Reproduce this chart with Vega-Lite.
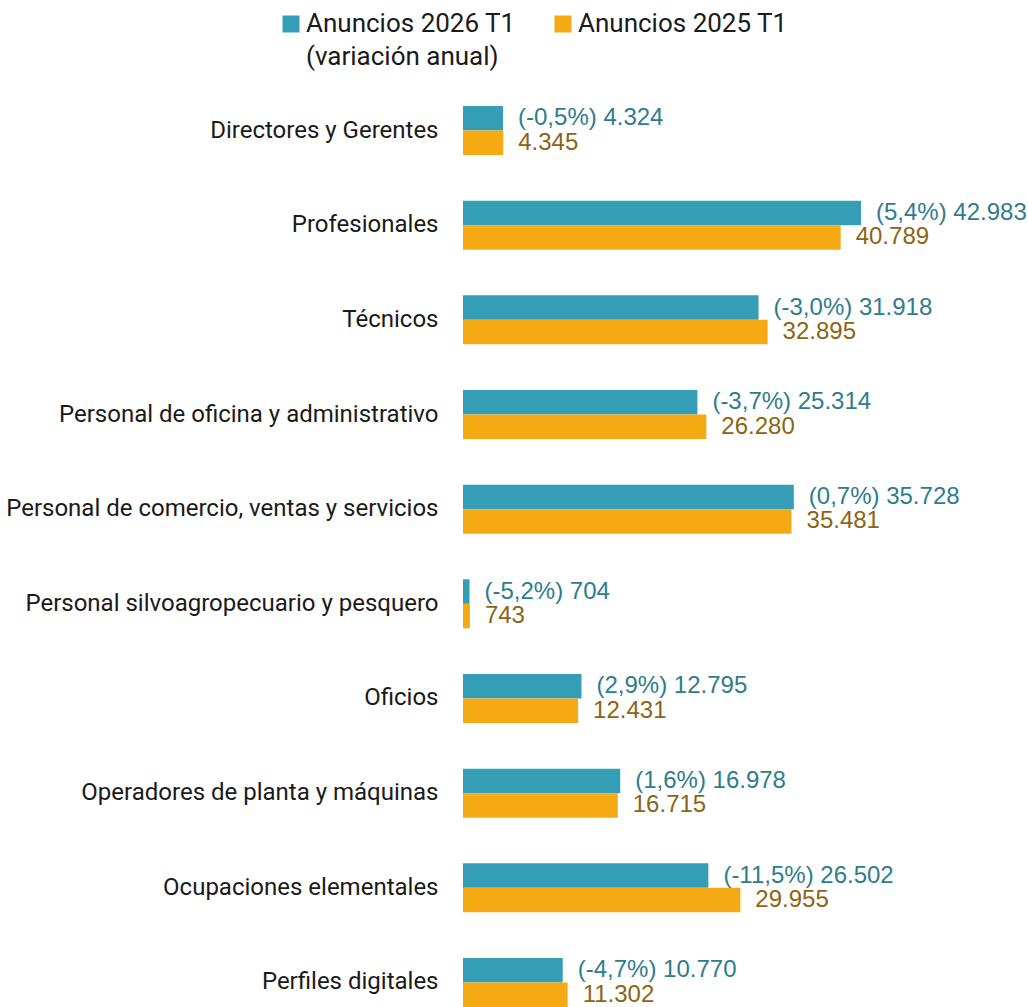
{
  "$schema": "https://vega.github.io/schema/vega-lite/v6.json",
  "width": 565,
  "height": 901,
  "autosize": {"type": "none"},
  "padding": {"left": 463, "top": 106, "right": 0, "bottom": 0},
  "background": "white",
  "config": {"view": {"stroke": null}, "font": "Roboto"},
  "data": {
    "values": [
      {"ocupacion": "Directores y Gerentes", "serie": "Anuncios 2026 T1", "valor": 4324, "etiqueta": "(-0,5%) 4.324"},
      {"ocupacion": "Directores y Gerentes", "serie": "Anuncios 2025 T1", "valor": 4345, "etiqueta": "4.345"},
      {"ocupacion": "Profesionales", "serie": "Anuncios 2026 T1", "valor": 42983, "etiqueta": "(5,4%) 42.983"},
      {"ocupacion": "Profesionales", "serie": "Anuncios 2025 T1", "valor": 40789, "etiqueta": "40.789"},
      {"ocupacion": "Técnicos", "serie": "Anuncios 2026 T1", "valor": 31918, "etiqueta": "(-3,0%) 31.918"},
      {"ocupacion": "Técnicos", "serie": "Anuncios 2025 T1", "valor": 32895, "etiqueta": "32.895"},
      {"ocupacion": "Personal de oficina y administrativo", "serie": "Anuncios 2026 T1", "valor": 25314, "etiqueta": "(-3,7%) 25.314"},
      {"ocupacion": "Personal de oficina y administrativo", "serie": "Anuncios 2025 T1", "valor": 26280, "etiqueta": "26.280"},
      {"ocupacion": "Personal de comercio, ventas y servicios", "serie": "Anuncios 2026 T1", "valor": 35728, "etiqueta": "(0,7%) 35.728"},
      {"ocupacion": "Personal de comercio, ventas y servicios", "serie": "Anuncios 2025 T1", "valor": 35481, "etiqueta": "35.481"},
      {"ocupacion": "Personal silvoagropecuario y pesquero", "serie": "Anuncios 2026 T1", "valor": 704, "etiqueta": "(-5,2%) 704"},
      {"ocupacion": "Personal silvoagropecuario y pesquero", "serie": "Anuncios 2025 T1", "valor": 743, "etiqueta": "743"},
      {"ocupacion": "Oficios", "serie": "Anuncios 2026 T1", "valor": 12795, "etiqueta": "(2,9%) 12.795"},
      {"ocupacion": "Oficios", "serie": "Anuncios 2025 T1", "valor": 12431, "etiqueta": "12.431"},
      {"ocupacion": "Operadores de planta y máquinas", "serie": "Anuncios 2026 T1", "valor": 16978, "etiqueta": "(1,6%) 16.978"},
      {"ocupacion": "Operadores de planta y máquinas", "serie": "Anuncios 2025 T1", "valor": 16715, "etiqueta": "16.715"},
      {"ocupacion": "Ocupaciones elementales", "serie": "Anuncios 2026 T1", "valor": 26502, "etiqueta": "(-11,5%) 26.502"},
      {"ocupacion": "Ocupaciones elementales", "serie": "Anuncios 2025 T1", "valor": 29955, "etiqueta": "29.955"},
      {"ocupacion": "Perfiles digitales", "serie": "Anuncios 2026 T1", "valor": 10770, "etiqueta": "(-4,7%) 10.770"},
      {"ocupacion": "Perfiles digitales", "serie": "Anuncios 2025 T1", "valor": 11302, "etiqueta": "11.302"}
    ]
  },
  "encoding": {
    "y": {
      "field": "ocupacion",
      "type": "nominal",
      "sort": null,
      "scale": {"paddingInner": 0.482, "paddingOuter": 0},
      "axis": {
        "title": null,
        "domain": false,
        "ticks": false,
        "grid": false,
        "labelPadding": 25,
        "labelFont": "Roboto",
        "labelFontSize": 24,
        "labelColor": "#1a1a1a",
        "labelLimit": 500
      }
    },
    "yOffset": {
      "field": "serie",
      "type": "nominal",
      "sort": ["Anuncios 2026 T1", "Anuncios 2025 T1"],
      "scale": {"paddingInner": 0, "paddingOuter": 0}
    },
    "x": {
      "field": "valor",
      "type": "quantitative",
      "scale": {"domain": [0, 61020]},
      "axis": null
    }
  },
  "layer": [
    {
      "mark": {"type": "bar"},
      "encoding": {
        "color": {
          "field": "serie",
          "type": "nominal",
          "scale": {"domain": ["Anuncios 2026 T1", "Anuncios 2025 T1"], "range": ["#349EB6", "#F5AA14"]},
          "legend": {
            "orient": "none",
            "legendX": -185,
            "legendY": -95,
            "direction": "horizontal",
            "columns": 2,
            "title": null,
            "padding": 0,
            "symbolType": "square",
            "symbolSize": 289,
            "symbolStrokeWidth": 0,
            "symbolOpacity": 1,
            "labelFont": "Roboto",
            "labelFontSize": 26,
            "labelColor": "#1a1a1a",
            "labelLimit": 400,
            "labelOffset": 2,
            "columnPadding": 34,
            "labelExpr": "datum.label === 'Anuncios 2026 T1' ? ['Anuncios 2026 T1', '(variación anual)'] : [datum.label, ' ']",
            "encode": {
              "labels": {"update": {"lineHeight": {"value": 33}}}
            }
          }
        }
      }
    },
    {
      "mark": {"type": "text", "align": "left", "baseline": "middle", "dx": 15, "font": "Liberation Sans", "fontSize": 24},
      "encoding": {
        "text": {"field": "etiqueta", "type": "nominal"},
        "color": {
          "condition": {"test": "datum.serie === 'Anuncios 2026 T1'", "value": "#2E7C8C"},
          "value": "#8C6414"
        }
      }
    }
  ]
}
